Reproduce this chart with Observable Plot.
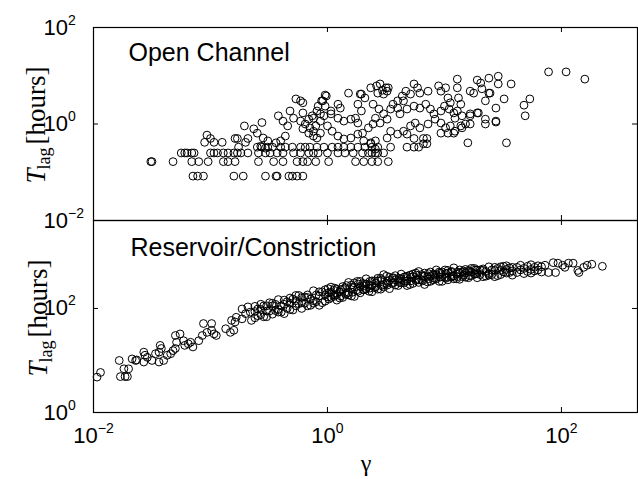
<!DOCTYPE html>
<html><head><meta charset="utf-8">
<script src="https://cdn.jsdelivr.net/npm/d3@7"></script>
<script src="https://cdn.jsdelivr.net/npm/@observablehq/plot@0.6"></script>
<style>
body{margin:0;background:#fff;}
#chart{position:relative;width:638px;height:479px;overflow:hidden;}
#chart svg{position:absolute;left:0;}
</style></head><body><div id="chart"></div>
<script>
// Values stored as [log10(gamma), log10(T_lag in hours)]
const openChannel = [
[-1.51,-0.78],[-1.50,-0.78],[-1.32,-0.78],
[-1.25,-0.60],[-1.22,-0.60],[-1.20,-0.60],[-1.16,-0.60],[-1.14,-0.60],[-1.00,-0.60],[-0.97,-0.60],[-0.94,-0.60],[-0.89,-0.60],[-0.85,-0.60],[-0.80,-0.60],[-0.77,-0.60],[-0.74,-0.60],[-0.68,-0.60],
[-1.16,-0.78],[-1.10,-0.78],[-1.02,-0.78],[-0.89,-0.78],[-0.85,-0.78],[-0.79,-0.78],
[-1.15,-1.08],[-1.11,-1.08],[-1.06,-1.08],[-0.80,-1.08],[-0.72,-1.08],
[-1.05,-0.38],[-0.97,-0.38],[-0.90,-0.38],[-1.03,-0.23],[-1.00,-0.30],[-0.79,-0.30],[-0.77,-0.30],[-0.70,-0.38],[-0.71,-0.04],[-0.68,-0.30],[-0.76,-0.48],
[-0.56,0.03],[-0.02,0.60],[0.18,0.64],[0.37,0.75],
[-0.04,0.48],[-0.02,0.37],[0.09,0.41],[0.11,0.33],[0.28,0.62],[0.32,0.54],
[-0.42,0.17],[-0.32,0.27],[-0.38,0.06],[-0.34,-0.04],
[-0.63,-0.10],[-0.60,-0.19],[-0.55,-0.29],[-0.51,-0.35],[-0.57,-0.46],[-0.53,-0.50],
[-0.44,-0.39],[-0.40,-0.35],[-0.36,-0.25],
[-0.23,0.06],[-0.19,0.00],[-0.15,-0.08],[-0.12,-0.15],
[-0.21,-0.10],[-0.16,-0.19],[-0.12,-0.25],[-0.09,-0.29],
[-0.29,0.12],[-0.13,0.17],[-0.09,0.27],[0.03,0.21],[0.09,0.12],[0.14,0.06],[0.20,0.10],[0.26,0.02],
[0.00,-0.04],[0.04,-0.15],[0.09,-0.25],[0.14,-0.31],[0.20,-0.29],[0.26,-0.21],[0.30,-0.19],[0.35,-0.08],[0.39,0.00],
[0.31,-0.35],[0.37,-0.39],[0.41,-0.35],
[-0.60,-0.48],[-0.56,-0.48],[-0.51,-0.48],[-0.47,-0.48],[-0.40,-0.48],[-0.36,-0.48],[-0.30,-0.48],[-0.23,-0.48],[-0.19,-0.48],[-0.15,-0.48],[-0.09,-0.48],[-0.03,-0.48],[0.04,-0.48],[0.09,-0.48],[0.14,-0.48],[0.20,-0.48],[0.26,-0.48],[0.32,-0.48],[0.38,-0.48],[0.43,-0.48],
[-0.59,-0.60],[-0.53,-0.60],[-0.49,-0.60],[-0.43,-0.60],[-0.38,-0.60],[-0.29,-0.60],[-0.23,-0.60],[-0.16,-0.60],[-0.12,-0.60],[-0.08,-0.60],[0.00,-0.60],[0.09,-0.60],[0.15,-0.60],[0.22,-0.60],[0.30,-0.60],[0.35,-0.60],[0.41,-0.60],
[-0.59,-0.78],[-0.46,-0.78],[-0.38,-0.78],[-0.26,-0.78],[-0.21,-0.78],[-0.17,-0.78],[-0.10,-0.78],[0.01,-0.78],[0.24,-0.78],[0.31,-0.78],[0.38,-0.78],[0.43,-0.78],[0.52,-0.78],
[-0.53,-1.08],[-0.44,-1.08],[-0.43,-1.08],[-0.33,-1.08],[-0.30,-1.08],[-0.26,-1.08],[-0.21,-1.08],
[-0.21,0.23],[-0.16,0.10],[-0.10,-0.04],[-0.06,0.06],[-0.08,0.37],[-0.03,0.17],[-0.06,-0.19],
[-0.05,0.48],[-0.01,0.58],[-0.06,0.21],[0.03,0.27],[0.42,0.79],[0.47,0.70],[0.29,0.27],[0.26,0.41],[0.24,0.12],[0.29,0.62],
[-0.27,0.52],[-0.23,0.48],[-0.21,0.44],[-0.12,0.12],
[0.45,0.83],[0.50,0.75],[0.43,0.64],[0.48,0.62],[0.51,0.68],[0.52,0.75],
[0.74,0.83],[0.77,0.75],[0.67,0.68],[0.71,0.62],[0.79,0.64],[0.86,0.68],
[0.95,0.79],[1.01,0.75],[0.97,0.68],[1.03,0.54],[1.05,0.44],
[1.11,0.93],[1.11,0.75],[1.28,0.91],[1.31,0.85],[1.38,0.95],[1.46,0.99],[1.22,0.68],[1.25,0.64],[1.38,0.64],[1.35,0.48],[1.46,0.83],
[1.12,0.54],[1.14,0.41],[1.11,0.27],[1.15,0.17],
[1.22,0.21],[1.28,0.23],[1.35,0.10],[1.35,0.00],[1.44,0.06],[1.20,-0.39],
[0.39,0.41],[0.44,0.31],[0.48,0.21],[0.41,0.12],[0.45,0.02],[0.51,0.10],[0.54,0.31],[0.56,0.41],[0.60,0.48],[0.64,0.58],[0.65,0.48],
[0.60,0.33],[0.62,0.21],[0.68,0.31],[0.74,0.37],[0.79,0.33],[0.84,0.41],[0.88,0.31],[0.91,0.21],[0.97,0.27],[1.00,0.37],[1.04,0.31],[1.08,0.23],[1.09,0.12],
[0.54,-0.15],[0.60,-0.21],[0.65,-0.15],[0.71,-0.04],[0.75,0.02],[0.79,-0.08],[0.86,0.00],[0.92,0.10],[0.97,0.02],[1.01,-0.08],[1.05,-0.04],[1.09,-0.15],[1.15,-0.08],[1.22,0.00],
[0.68,-0.21],[0.74,-0.30],[0.82,-0.30],[0.85,-0.30],[0.82,-0.41],[0.85,-0.41],
[0.68,-0.48],[0.74,-0.48],[0.78,-0.48],
[0.37,-0.41],[0.41,-0.52],[0.38,-0.60],[0.43,-0.60],[0.48,-0.60],
[0.54,-0.48],[0.51,-0.29],
[0.97,-0.19],[1.03,-0.19],[1.08,-0.19],
[1.14,-0.04],[1.18,0.00],[1.22,0.17],
[1.57,0.83],[1.89,1.08],[2.04,1.08],[2.20,0.93],[1.39,0.64],[1.51,0.52],[1.44,0.33],[1.73,0.52],[1.68,0.39],[1.69,0.17],[1.44,0.04],[1.53,-0.39],[1.32,0.73],[1.29,0.23]
];

const reservoirTail = [
[-1.97,0.68],[-1.94,0.77],[-1.78,1.00],[-1.77,0.69],[-1.73,0.69],[-1.71,0.69],[-1.74,0.84],[-1.70,0.84],[-1.67,1.03],[-1.64,1.00],[-1.63,1.01],[-1.57,1.16],[-1.56,1.10],[-1.54,1.06],[-1.57,0.97],[-1.50,1.00],[-1.47,1.13],[-1.44,1.16],[-1.43,1.29],[-1.42,1.23],[-1.44,0.97],[-1.40,1.00],[-1.37,1.10],[-1.34,1.13],[-1.32,1.19],[-1.30,1.23],[-1.30,1.48],[-1.26,1.51],[-1.29,1.35],[-1.23,1.38],[-1.22,1.29],[-1.19,1.32],[-1.17,1.35],[-1.15,1.26],[-1.10,1.38],[-1.07,1.48],[-1.06,1.71],[-1.03,1.54],[-0.99,1.71],[-0.99,1.58],[-0.97,1.51],[-0.95,1.48],[-0.87,1.61],[-0.83,1.54],[-0.80,1.58],[-0.82,1.77],[-0.79,1.74],[-0.78,1.83],[-0.73,1.99],[-0.73,1.80],[-0.70,1.90],[-0.68,2.03],[-0.66,1.93],[-0.65,1.77]
];

const reservoirBand = [
[-0.62,2.04],[-0.62,1.82],[-0.62,1.94],[-0.595,1.99],[-0.595,1.86],
[-0.57,1.88],[-0.57,2.08],[-0.57,1.98],[-0.545,1.84],[-0.545,2.05],
[-0.52,2.05],[-0.52,1.84],[-0.52,1.95],[-0.495,2.11],[-0.495,1.95],
[-0.47,1.89],[-0.47,2.10],[-0.47,2.05],[-0.445,1.96],[-0.445,2.08],
[-0.42,2.17],[-0.42,1.98],[-0.42,1.93],[-0.395,2.05],[-0.395,1.93],
[-0.37,2.08],[-0.37,1.90],[-0.37,2.16],[-0.345,2.13],[-0.345,2.00],
[-0.32,2.20],[-0.32,1.98],[-0.32,2.10],[-0.295,1.97],[-0.295,2.18],
[-0.27,2.05],[-0.27,2.25],[-0.27,2.15],[-0.245,2.25],[-0.245,2.09],
[-0.22,2.21],[-0.22,2.00],[-0.22,2.11],[-0.195,2.10],[-0.195,2.22],
[-0.17,2.05],[-0.17,2.26],[-0.17,2.21],[-0.145,2.18],[-0.145,2.06],
[-0.12,2.34],[-0.12,2.15],[-0.12,2.10],[-0.095,2.26],[-0.095,2.13],
[-0.07,2.24],[-0.07,2.06],[-0.07,2.32],[-0.045,2.11],[-0.045,2.32],
[-0.02,2.36],[-0.02,2.14],[-0.02,2.26],[0.005,2.38],[0.005,2.22],
[0.03,2.21],[0.03,2.41],[0.03,2.31],[0.055,2.23],[0.055,2.35],
[0.08,2.37],[0.08,2.16],[0.08,2.27],[0.105,2.32],[0.105,2.20],
[0.13,2.21],[0.13,2.42],[0.13,2.37],[0.155,2.40],[0.155,2.27],
[0.18,2.50],[0.18,2.31],[0.18,2.26],[0.205,2.24],[0.205,2.45],
[0.23,2.41],[0.23,2.23],[0.23,2.49],[0.255,2.52],[0.255,2.36],
[0.28,2.52],[0.28,2.30],[0.28,2.42],[0.305,2.36],[0.305,2.48],
[0.33,2.37],[0.33,2.57],[0.33,2.47],[0.355,2.45],[0.355,2.33],
[0.38,2.53],[0.38,2.32],[0.38,2.43],[0.405,2.53],[0.405,2.40],
[0.43,2.37],[0.43,2.58],[0.43,2.53],[0.455,2.37],[0.455,2.58],
[0.48,2.65],[0.48,2.46],[0.48,2.41],[0.505,2.62],[0.505,2.48],
[0.53,2.54],[0.53,2.38],[0.53,2.60],[0.555,2.48],[0.555,2.58],
[0.58,2.63],[0.58,2.45],[0.58,2.55],[0.605,2.54],[0.605,2.44],
[0.63,2.49],[0.63,2.66],[0.63,2.57],[0.655,2.60],[0.655,2.49],
[0.68,2.62],[0.68,2.44],[0.68,2.53],[0.705,2.46],[0.705,2.64],
[0.73,2.48],[0.73,2.66],[0.73,2.61],[0.755,2.68],[0.755,2.54],
[0.78,2.71],[0.78,2.55],[0.78,2.50],[0.805,2.55],[0.805,2.65],
[0.83,2.62],[0.83,2.46],[0.83,2.68],[0.855,2.61],[0.855,2.51],
[0.88,2.70],[0.88,2.52],[0.88,2.62],[0.905,2.66],[0.905,2.55],
[0.93,2.57],[0.93,2.74],[0.93,2.65],[0.955,2.52],[0.955,2.70],
[0.98,2.70],[0.98,2.52],[0.98,2.61],[1.005,2.74],[1.005,2.60],
[1.03,2.55],[1.03,2.73],[1.03,2.68],[1.055,2.60],[1.055,2.70],
[1.08,2.78],[1.08,2.62],[1.08,2.57],[1.105,2.66],[1.105,2.57],
[1.13,2.68],[1.13,2.56],[1.13,2.74],[1.155,2.70],[1.155,2.61],
[1.18,2.75],[1.18,2.60],[1.18,2.68],[1.205,2.59],[1.205,2.73],
[1.23,2.63],[1.23,2.77],[1.23,2.70],[1.255,2.77],[1.255,2.66],
[1.28,2.74],[1.28,2.59],[1.28,2.67],[1.305,2.65],[1.305,2.74],
[1.33,2.61],[1.33,2.76],[1.33,2.73],[1.355,2.71],[1.355,2.62],
[1.38,2.80],[1.38,2.67],[1.38,2.64],[1.405,2.74],[1.405,2.65],
[1.43,2.73],[1.43,2.61],[1.43,2.79],[1.455,2.63],[1.455,2.77],
[1.48,2.80],[1.48,2.65],[1.48,2.73],[1.505,2.81],[1.505,2.70],
[1.53,2.68],[1.53,2.82],[1.53,2.75],[1.555,2.69],[1.555,2.78],
[1.58,2.79],[1.58,2.64],[1.58,2.72],
[1.62,2.79],[1.62,2.69],[1.65,2.74],[1.65,2.83],[1.68,2.67],[1.68,2.77],[1.71,2.81],[1.71,2.71],[1.74,2.75],[1.74,2.84],[1.74,2.68],[1.77,2.79],[1.77,2.72],[1.80,2.82],[1.80,2.74],[1.83,2.70],[1.83,2.80],
[1.86,2.83],[1.89,2.69],[1.93,2.88],[1.95,2.69],[1.97,2.87],[2.01,2.83],[2.03,2.79],[2.06,2.87],[2.10,2.87],[2.14,2.73],[2.15,2.69],[2.19,2.79],[2.22,2.83],[2.26,2.85],[2.35,2.81]
];

const reservoirCore = [
[0.0125,2.30],[0.0125,2.18],[0.0625,2.26],[0.0625,2.39],[0.1125,2.36],[0.1125,2.24],
[0.1625,2.29],[0.1625,2.44],[0.2125,2.40],[0.2125,2.31],[0.2625,2.33],[0.2625,2.47],
[0.3125,2.44],[0.3125,2.36],[0.3625,2.39],[0.3625,2.52],[0.4125,2.49],[0.4125,2.42],
[0.4625,2.44],[0.4625,2.55],[0.5125,2.52],[0.5125,2.45],[0.5625,2.50],[0.5625,2.59],
[0.6125,2.58],[0.6125,2.50],[0.6625,2.52],[0.6625,2.61],[0.7125,2.60],[0.7125,2.53],
[0.7625,2.56],[0.7625,2.64],[0.8125,2.62],[0.8125,2.53],[0.8625,2.57],[0.8625,2.67],
[0.9125,2.64],[0.9125,2.58],[0.9625,2.60],[0.9625,2.68],[1.0125,2.67],[1.0125,2.58],
[1.0625,2.62],[1.0625,2.71],[1.1125,2.70],[1.1125,2.61],[1.1625,2.64],[1.1625,2.72],
[1.2125,2.71],[1.2125,2.63],[1.2625,2.66],[1.2625,2.74]
];

const xDomain = [0.01, 447];
const xTicks = [0.01, 1, 100];
const topYDomain = [0.01, 100];
const topYTicks = [0.01, 1, 100];
const bottomYDomain = [1, 4900];
const bottomYTicks = [1, 100];
const topNote = "Open Channel";
const bottomNote = "Reservoir/Constriction";
const xLabel = "\u03b3";

const W = 638, ML = 93, MR = 1, TICK = 5;
const fmt = d => "10^" + Math.round(Math.log10(d));

function panel({data, yDomain, yTicks, height, marginTop, marginBottom, note, noteDx, noteDy, xAxis}) {
  const frameH = height - marginTop - marginBottom;
  const frameW = W - ML - MR;
  const inner = (t, dom) => t.filter(v => v > dom[0] * 1.001 && v < dom[1] / 1.001);
  const xi = inner(xTicks, xDomain), yi = inner(yTicks, yDomain);
  const marks = [
    Plot.dot(data, {x: d => 10 ** d[0], y: d => 10 ** d[1], r: 3.9, stroke: "black", strokeWidth: 1, fill: "none"}),
    Plot.frame({stroke: "black", strokeWidth: 1.2}),
    Plot.tickX(xi, {x: d => d, insetBottom: frameH - TICK, stroke: "black"}),
    Plot.tickX(xi, {x: d => d, insetTop: frameH - TICK, stroke: "black"}),
    Plot.tickY(yi, {y: d => d, insetRight: frameW - TICK, stroke: "black"}),
    Plot.tickY(yi, {y: d => d, insetLeft: frameW - TICK, stroke: "black"}),
    Plot.axisY(yTicks, {tickSize: 0, tickPadding: 50, textAnchor: "start", tickFormat: fmt, fontSize: 22}),
    Plot.text([note], {text: d => d, frameAnchor: "top-left", dx: noteDx, dy: noteDy, lineAnchor: "top", textAnchor: "start", fontSize: 25})
  ];
  if (xAxis) marks.push(Plot.axisX(xTicks, {tickSize: 0, tickPadding: 15, tickFormat: fmt, fontSize: 22}));
  return Plot.plot({
    width: W, height, marginTop, marginBottom, marginLeft: ML, marginRight: MR,
    x: {type: "log", domain: xDomain, label: null, axis: xAxis ? undefined : null},
    y: {type: "log", domain: yDomain, label: null},
    style: {fontFamily: "'Liberation Sans', Arial, sans-serif", background: "transparent", overflow: "visible", color: "black"},
    marks
  });
}

function superscripts(svg) {
  d3.select(svg).selectAll('g[aria-label="x-axis tick label"] text, g[aria-label="y-axis tick label"] text').each(function() {
    const s = this.textContent;
    if (!s.includes("^")) return;
    const [b, e] = s.split("^");
    const t = d3.select(this);
    t.text(b);
    t.append("tspan").attr("font-size", 14).attr("dy", -10).text(e.replace("-", "\u2212"));
  });
}

function yTitle(svg, x, y) {
  const t = d3.select(svg).append("text")
    .attr("transform", `translate(${x},${y}) rotate(-90)`)
    .attr("text-anchor", "middle")
    .attr("font-family", "'Liberation Serif', 'Times New Roman', serif")
    .attr("font-size", 27).attr("fill", "black");
  t.append("tspan").attr("font-style", "italic").text("T");
  t.append("tspan").attr("font-size", 18).attr("dy", 5).attr("dx", -1).text("lag");
  t.append("tspan").attr("dy", -5).attr("dx", 3).text("[hours]");
}

const topSvg = panel({data: openChannel, yDomain: topYDomain, yTicks: topYTicks, height: 221, marginTop: 27, marginBottom: 1, note: topNote, noteDx: 35, noteDy: 16, xAxis: false});
const bottomSvg = panel({data: reservoirBand.concat(reservoirCore, reservoirTail), yDomain: bottomYDomain, yTicks: bottomYTicks, height: 260, marginTop: 1, marginBottom: 67, note: bottomNote, noteDx: 37, noteDy: 18, xAxis: true});
superscripts(topSvg); superscripts(bottomSvg);
yTitle(topSvg, 45, 125);
yTitle(bottomSvg, 47, 99);
d3.select(bottomSvg).append("text").attr("x", 366).attr("y", 252).attr("text-anchor", "middle")
  .attr("font-family", "'Liberation Serif', serif").attr("font-size", 24).attr("fill", "black").text(xLabel);
topSvg.style.top = "0px";
bottomSvg.style.top = "219px";
const chartEl = document.getElementById("chart");
chartEl.appendChild(topSvg); chartEl.appendChild(bottomSvg);
</script></body></html>
